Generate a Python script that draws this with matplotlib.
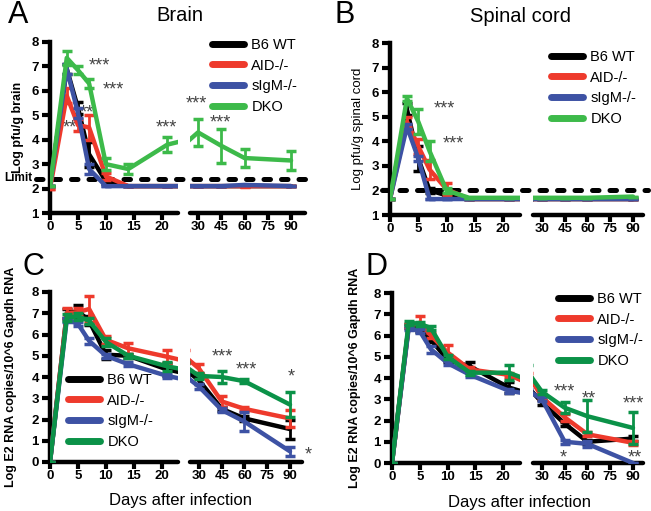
import numpy as np
import matplotlib
matplotlib.use("Agg")
import matplotlib.pyplot as plt
from matplotlib.lines import Line2D
from matplotlib.transforms import blended_transform_factory

plt.rcParams['font.family'] = ['Liberation Sans', 'DejaVu Sans']

days = [0, 3, 5, 7, 10, 14, 21, 30, 45, 60, 90]
groups = ["B6 WT", "AID-/-", "sIgM-/-", "DKO"]

# A: virus titer in brain
brain_wt = [2.1, 6.9, 5.3, 3.4, 2.3, 2.1, 2.1, 2.1, 2.1, 2.1, 2.1]
brain_wt_err = [0, 0.2, 0.25, 0.5, 0.1, 0, 0, 0, 0, 0, 0]
brain_aid = [2.0, 5.8, 4.6, 4.5, 2.5, 2.1, 2.1, 2.1, 2.1, 2.1, 2.1]
brain_aid_err = [0, 0.3, 0.25, 0.5, 0.15, 0, 0, 0, 0, 0.05, 0]
brain_sigm = [2.1, 6.9, 5.1, 2.8, 2.1, 2.1, 2.1, 2.1, 2.1, 2.15, 2.1]
brain_sigm_err = [0, 0.2, 0.2, 0.2, 0, 0, 0, 0, 0, 0, 0]
brain_dko = [2.1, 7.35, 6.85, 6.3, 3.0, 2.8, 3.8, 4.3, 3.75, 3.25, 3.15]
brain_dko_err = [0, 0.3, 0.15, 0.2, 0.25, 0.2, 0.3, 0.55, 0.7, 0.35, 0.4]

# B: virus titer in spinal cord
spinal_wt = [1.65, 5.3, 3.3, 2.0, 1.8, 1.65, 1.65, 1.65, 1.65, 1.65, 1.65]
spinal_wt_err = [0, 0.25, 0.5, 0.1, 0, 0, 0, 0, 0, 0, 0]
spinal_aid = [1.65, 4.8, 3.8, 2.85, 2.05, 1.65, 1.65, 1.65, 1.65, 1.65, 1.65]
spinal_aid_err = [0, 0.2, 0.3, 0.4, 0.25, 0, 0, 0, 0, 0, 0]
spinal_sigm = [1.65, 4.6, 3.3, 1.65, 1.65, 1.65, 1.65, 1.65, 1.65, 1.65, 1.65]
spinal_sigm_err = [0, 0.1, 0.1, 0, 0, 0, 0, 0, 0, 0, 0]
spinal_dko = [1.65, 5.75, 4.8, 3.6, 2.0, 1.7, 1.7, 1.7, 1.7, 1.7, 1.75]
spinal_dko_err = [0, 0.1, 0.5, 0.4, 0.1, 0, 0, 0, 0, 0, 0]

# C: E2 RNA in brain
rna_brain_wt = [0, 7.0, 7.1, 6.65, 5.05, 5.0, 4.35, 3.85, 2.5, 2.05, 1.55]
rna_brain_wt_err = [0, 0.2, 0.3, 0.2, 0.2, 0.1, 0.3, 0.2, 0.1, 0.1, 0.45]
rna_brain_aid = [0, 7.0, 7.05, 7.2, 5.75, 5.35, 4.95, 4.4, 2.85, 2.5, 2.05]
rna_brain_aid_err = [0, 0.25, 0.2, 0.6, 0.2, 0.25, 0.3, 0.2, 0.25, 0.1, 0.4]
rna_brain_sigm = [0, 6.7, 6.5, 5.7, 5.0, 4.6, 4.05, 3.55, 2.45, 1.9, 0.5]
rna_brain_sigm_err = [0, 0.1, 0.1, 0.15, 0.1, 0.1, 0.1, 0.1, 0.1, 0.45, 0.2]
rna_brain_dko = [0, 6.8, 6.85, 6.65, 5.65, 5.0, 4.5, 4.05, 4.0, 3.8, 2.7]
rna_brain_dko_err = [0, 0.15, 0.15, 0.15, 0.2, 0.1, 0.2, 0.15, 0.3, 0.1, 0.6]

# D: E2 RNA in spinal cord
rna_spinal_wt = [0, 6.45, 6.25, 5.8, 4.85, 4.55, 3.55, 2.85, 1.85, 1.0, 1.15]
rna_spinal_wt_err = [0, 0.1, 0.1, 0.1, 0.1, 0.2, 0.25, 0.1, 0.1, 0.1, 0.1]
rna_spinal_aid = [0, 6.45, 6.6, 6.0, 5.2, 4.4, 4.15, 3.1, 2.15, 1.35, 0.95]
rna_spinal_aid_err = [0, 0.1, 0.3, 0.1, 0.35, 0.1, 0.1, 0.1, 0.15, 0.1, 0.1]
rna_spinal_sigm = [0, 6.35, 6.2, 5.35, 4.7, 4.15, 3.4, 3.0, 1.0, 0.9, 0.0]
rna_spinal_sigm_err = [0, 0.1, 0.1, 0.15, 0.1, 0.1, 0.1, 0.1, 0.1, 0.15, 0]
rna_spinal_dko = [0, 6.6, 6.55, 6.35, 5.0, 4.25, 4.25, 3.35, 2.6, 2.2, 1.65]
rna_spinal_dko_err = [0, 0.1, 0.1, 0.1, 0.1, 0.1, 0.35, 0.1, 0.25, 0.75, 0.75]

left_ticks = [0, 5, 10, 15, 20]
right_ticks = [30, 45, 60, 75, 90]

W, H = 651, 511
fig = plt.figure(figsize=(W / 100, H / 100), dpi=100)


def px_axes(x0, y0, x1, y1):
    return fig.add_axes([x0 / W, 1 - y1 / H, (x1 - x0) / W, (y1 - y0) / H])


def style(ax, ylim, xlim, xticks, show_y):
    ax.set_ylim(*ylim)
    ax.set_xlim(*xlim)
    ax.set_xticks(xticks)
    ax.set_xticklabels([str(t) for t in xticks], fontsize=9.5, fontweight='bold')
    ax.spines['top'].set_visible(False)
    ax.spines['right'].set_visible(False)
    ax.spines['bottom'].set_linewidth(3.2)
    ax.spines['bottom'].set_capstyle('round')
    ax.tick_params(axis='x', length=5, width=3, pad=1)
    if show_y:
        ax.spines['left'].set_linewidth(3.2)
        ax.set_yticks(range(int(ylim[0]), int(ylim[1]) + 1))
        ax.set_yticklabels([str(t) for t in range(int(ylim[0]), int(ylim[1]) + 1)],
                           fontsize=9.5, fontweight='bold')
        ax.tick_params(axis='y', length=6, width=3, pad=2)
    else:
        ax.spines['left'].set_visible(False)
        ax.set_yticks([])
    ax.patch.set_alpha(0)


def draw_panel(rects, ylim, xlims, series, colors):
    axl = px_axes(*rects[0])
    axr = px_axes(*rects[1])
    style(axl, ylim, xlims[0], left_ticks, True)
    style(axr, ylim, xlims[1], right_ticks, False)
    for (vals, errs), c in zip(series, colors):
        for ax in (axl, axr):
            ax.plot(days, vals, color=c, lw=3.2, zorder=3, solid_capstyle='round')
            ax.errorbar(days, vals, yerr=errs, fmt='none', ecolor=c, elinewidth=2,
                        capsize=3.5, capthick=2.5, zorder=3)
    return axl, axr


def stars(ax, x, y, s):
    ax.text(x, y, s, fontsize=13, color='#444444', ha='center', va='center', zorder=2)


def legend(x, y, colors):
    handles = [Line2D([], [], color=c, lw=5, solid_capstyle='round') for c in colors]
    fig.legend(handles, groups, loc='upper left', bbox_to_anchor=(x / W, 1 - y / H),
               frameon=False, fontsize=10.5, handlelength=2.2, handletextpad=0.5,
               labelspacing=0.45, borderpad=0, borderaxespad=0)


def dashed(ax, y, x0, x1):
    tr = blended_transform_factory(ax.transAxes, ax.transData)
    ax.plot([x0, x1], [y, y], transform=tr, color='black', lw=3.6, clip_on=False,
            linestyle=(0, (1.3, 2.2)), dash_capstyle='round', zorder=1)


bright = ['black', '#ee3a2c', '#3d52a4', '#3dba4a']
dark = ['black', '#ee3a2c', '#3d52a4', '#0b9248']

# Panel A
aL, aR = draw_panel([(50, 42, 178, 213), (190, 42, 305, 213)], (1, 8), [(0, 22.9), (24.8, 99)],
                    [(brain_wt, brain_wt_err), (brain_aid, brain_aid_err),
                     (brain_sigm, brain_sigm_err), (brain_dko, brain_dko_err)], bright)
dashed(aL, 2.4, (36 - 50) / 128, (308 - 50) / 128)
aL.text((32 - 50) / 128, 2.45, 'Limit', transform=blended_transform_factory(aL.transAxes, aL.transData),
        ha='right', va='center', fontsize=8.5, fontweight='bold')
aL.set_ylabel('Log pfu/g brain', fontsize=9, fontweight='bold', labelpad=5)
stars(aL, 8.9, 7.0, '***')
stars(aL, 11.3, 6.05, '***')
stars(aL, 3.6, 4.5, '**')
stars(aL, 6.6, 5.1, '**')
stars(aL, 20.8, 4.5, '***')
stars(aR, 29.2, 5.45, '***')
stars(aR, 44.5, 4.7, '***')
legend(212, 38, bright)
fig.text(180 / W, 1 - 15 / H, 'Brain', fontsize=14.5, ha='center', va='center')
fig.text(8 / W, 1 - 15 / H, 'A', fontsize=22, ha='left', va='center')

# Panel B
bL, bR = draw_panel([(390, 43, 520, 215), (533, 43, 643, 215)], (1, 8), [(0, 23), (24.1, 96.6)],
                    [(spinal_wt, spinal_wt_err), (spinal_aid, spinal_aid_err),
                     (spinal_sigm, spinal_sigm_err), (spinal_dko, spinal_dko_err)], bright)
dashed(bL, 2.0, (382 - 390) / 130, (648 - 390) / 130)
bL.set_ylabel('Log pfu/g spinal cord', fontsize=9.5, labelpad=5)
stars(bL, 9.6, 5.3, '***')
stars(bL, 11.2, 3.9, '***')
legend(551, 50, bright)
fig.text(520 / W, 1 - 17 / H, 'Spinal cord', fontsize=14.5, ha='center', va='center')
fig.text(335 / W, 1 - 15 / H, 'B', fontsize=22, ha='left', va='center')

# Panel C
cL, cR = draw_panel([(50, 292, 178, 462), (190, 292, 302, 462)], (0, 8), [(0, 22.9), (24.1, 97.9)],
                    [(rna_brain_wt, rna_brain_wt_err), (rna_brain_aid, rna_brain_aid_err),
                     (rna_brain_sigm, rna_brain_sigm_err), (rna_brain_dko, rna_brain_dko_err)], dark)
cL.set_ylabel('Log E2 RNA copies/10^6 Gapdh RNA', fontsize=9, fontweight='bold', labelpad=10)
stars(cR, 45.5, 4.95, '***')
stars(cR, 61, 4.35, '***')
stars(cR, 90.5, 4.0, '*')
stars(cR, 102, 0.35, '*')
legend(68, 373, dark)
fig.text(180 / W, 1 - 500 / H, 'Days after infection', fontsize=12, ha='center', va='center')
fig.text(22 / W, 1 - 267 / H, 'C', fontsize=22, ha='left', va='center')

# Panel D
dL, dR = draw_panel([(392, 293, 520, 463), (533, 293, 643, 463)], (0, 8), [(0, 23), (24.1, 96.6)],
                    [(rna_spinal_wt, rna_spinal_wt_err), (rna_spinal_aid, rna_spinal_aid_err),
                     (rna_spinal_sigm, rna_spinal_sigm_err), (rna_spinal_dko, rna_spinal_dko_err)], dark)
dL.set_ylabel('Log E2 RNA copies/10^6 Gapdh RNA', fontsize=9, fontweight='bold', labelpad=9)
stars(dR, 45, 3.35, '***')
stars(dR, 61, 3.0, '**')
stars(dR, 90, 2.8, '***')
stars(dR, 44, 0.25, '*')
stars(dR, 91, 0.25, '**')
legend(558, 292, dark)
fig.text(520 / W, 1 - 502 / H, 'Days after infection', fontsize=12, ha='center', va='center')
fig.text(365 / W, 1 - 267 / H, 'D', fontsize=22, ha='left', va='center')

fig.savefig('out.png', dpi=100)
